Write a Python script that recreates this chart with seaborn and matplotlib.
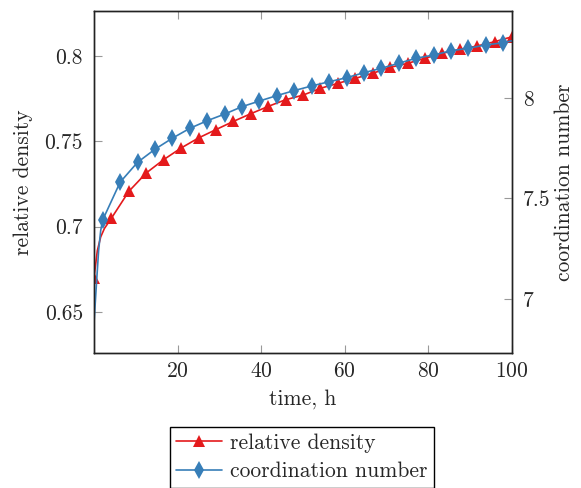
import numpy as np
import pandas as pd
import seaborn as sns
import matplotlib.pyplot as plt

# relative density (left axis), line points incl. a few early ones without marker
time_rd = [0, 0.8, 1.6, 2.5, 4.17, 8.33, 12.5, 16.67, 20.83, 25, 29.17, 33.33, 37.5,
           41.67, 45.83, 50, 54.17, 58.33, 62.5, 66.67, 70.83, 75, 79.17, 83.33,
           87.5, 91.67, 95.83, 100]
rel_density = [0.670, 0.686, 0.694, 0.699, 0.705, 0.7207, 0.7315, 0.7393, 0.7461,
               0.752, 0.7569, 0.7617, 0.7662, 0.7705, 0.7744, 0.7771, 0.7811, 0.784,
               0.7869, 0.7899, 0.7934, 0.7957, 0.7987, 0.8016, 0.8039, 0.8059,
               0.8084, 0.8113]
rd_marks = [0] + list(range(4, len(time_rd)))

# coordination number (right axis)
time_cn = [0, 0.6, 1.1, 1.6, 2.08, 6.25, 10.42, 14.58, 18.75, 22.92, 27.08, 31.25,
           35.42, 39.58, 43.75, 47.92, 52.08, 56.25, 60.42, 64.58, 68.75, 72.92,
           77.08, 81.25, 85.42, 89.58, 93.75, 97.92, 100]
coord_num = [6.88, 7.08, 7.24, 7.34, 7.393, 7.581, 7.680, 7.745, 7.800, 7.849, 7.887,
             7.920, 7.957, 7.985, 8.012, 8.037, 8.060, 8.081, 8.101, 8.126, 8.148,
             8.173, 8.198, 8.214, 8.235, 8.248, 8.264, 8.275, 8.285]
cn_marks = list(range(4, len(time_cn) - 1))

red = "#e41a1c"
blue = "#377eb8"

sns.set_style("ticks")
plt.rcParams["font.family"] = "serif"
plt.rcParams["font.serif"] = ["cmr10", "DejaVu Serif"]
plt.rcParams["mathtext.fontset"] = "cm"
plt.rcParams["axes.formatter.use_mathtext"] = True
plt.rcParams["font.size"] = 15.5

df_rd = pd.DataFrame({"t": time_rd, "rd": rel_density})
df_cn = pd.DataFrame({"t": time_cn, "cn": coord_num})

fig = plt.figure(figsize=(5.81, 4.88), dpi=100)
ax = fig.add_axes([94 / 581, 1 - 353 / 488, 418 / 581, 342 / 488])
ax2 = ax.twinx()

sns.lineplot(data=df_rd, x="t", y="rd", ax=ax, color=red, lw=1.2, marker="^",
             markersize=9, markeredgewidth=0, markevery=rd_marks,
             label="relative density", legend=False)
sns.lineplot(data=df_cn, x="t", y="cn", ax=ax2, color=blue, lw=1.2, marker="d",
             markersize=9, markeredgewidth=0, markevery=cn_marks,
             label="coordination number", legend=False)

ax.set_xlim(0, 100)
ax.set_ylim(0.626, 0.8264)
ax2.set_ylim(6.731, 8.433)
ax.set_xticks([20, 40, 60, 80, 100])
ax.set_yticks([0.65, 0.7, 0.75, 0.8])
ax.set_yticklabels(["0.65", "0.7", "0.75", "0.8"])
ax2.set_yticks([7, 7.5, 8])
ax2.set_yticklabels(["7", "7.5", "8"])

ax.set_xlabel("time, h", labelpad=6)
ax.set_ylabel("relative density", labelpad=8)
ax2.set_ylabel("coordination number", labelpad=3)

ax.tick_params(axis="x", direction="in", top=True, length=6, color="#999999", pad=6)
ax.tick_params(axis="y", direction="in", right=False, length=6, color="#999999", pad=8)
ax2.tick_params(axis="y", direction="in", length=6, color="#999999", pad=8)
for a in (ax, ax2):
    for s in a.spines.values():
        s.set_visible(True)
        s.set_linewidth(1.0)
        s.set_color("#222222")

h1, l1 = ax.get_legend_handles_labels()
h2, l2 = ax2.get_legend_handles_labels()
leg = fig.legend(h1 + h2, l1 + l2, loc="upper center",
                 bbox_to_anchor=(302 / 581, 1 - 427 / 488), fancybox=False,
                 edgecolor="black", framealpha=1, handlelength=2.1,
                 borderpad=0.3, labelspacing=0.4, handletextpad=0.4,
                 borderaxespad=0)
leg.get_frame().set_linewidth(1.0)

fig.savefig("out.png", dpi=100)
